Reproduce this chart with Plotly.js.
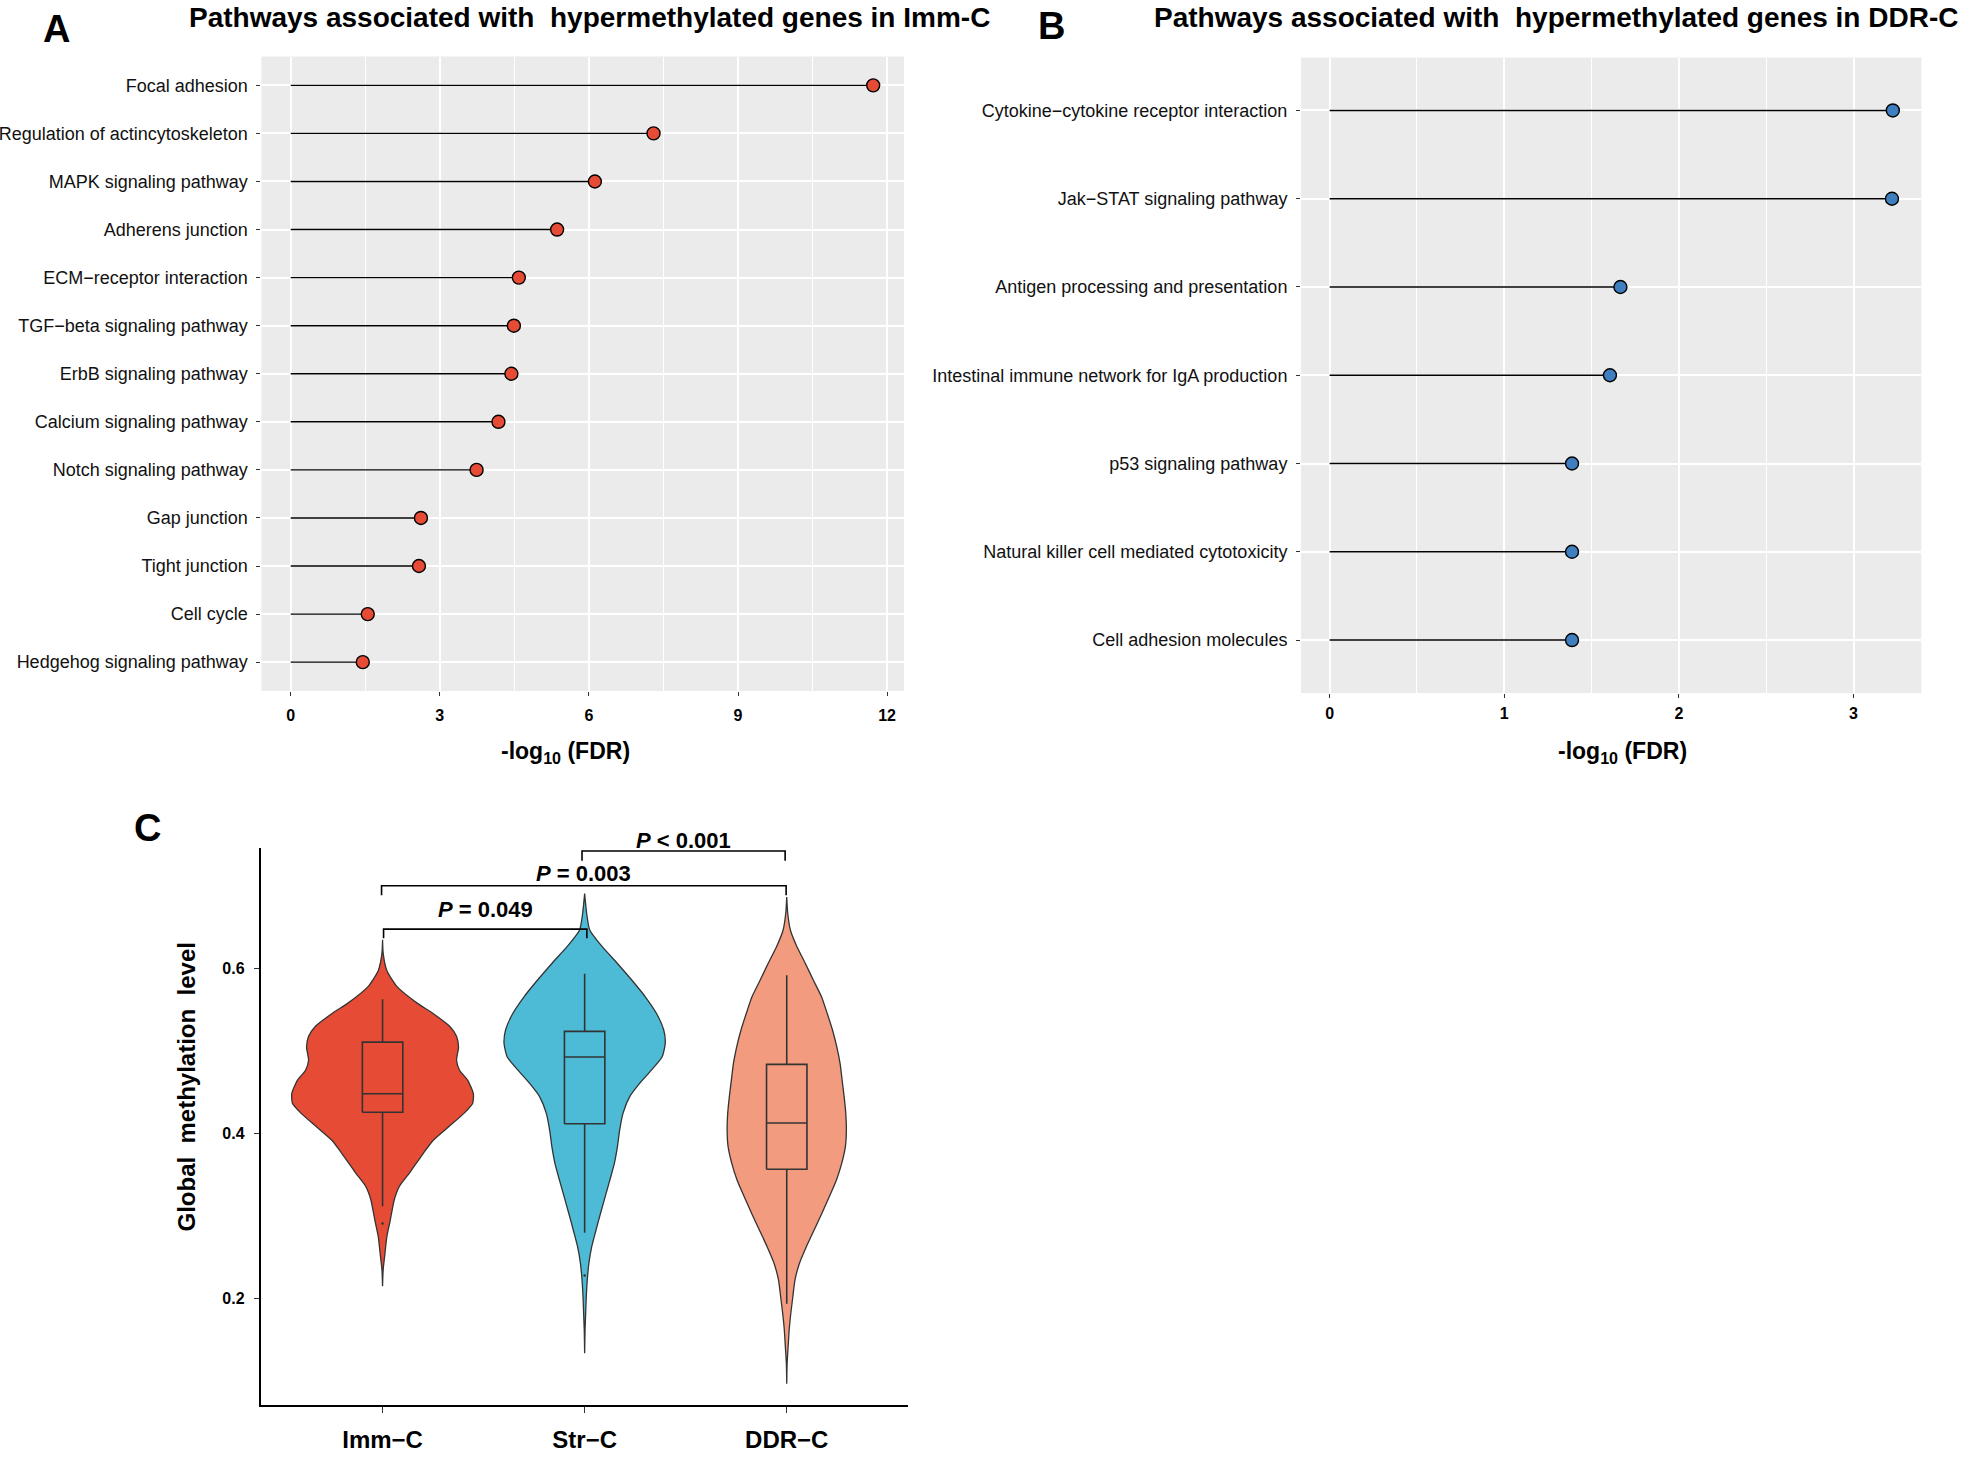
<!DOCTYPE html>
<html><head><meta charset="utf-8">
<script src="https://cdn.plot.ly/plotly-3.0.1.min.js"></script>
<style>html,body{margin:0;padding:0;background:#fff}#chart{width:1961px;height:1457px}</style>
</head><body><div id="chart"></div>
<script>
// ---------- Panel A data ----------
const pathwaysA = ["Focal adhesion","Regulation of actincytoskeleton","MAPK signaling pathway","Adherens junction","ECM\u2212receptor interaction","TGF\u2212beta signaling pathway","ErbB signaling pathway","Calcium signaling pathway","Notch signaling pathway","Gap junction","Tight junction","Cell cycle","Hedgehog signaling pathway"];
const fdrA = [11.72, 7.30, 6.12, 5.36, 4.59, 4.49, 4.44, 4.18, 3.74, 2.62, 2.58, 1.55, 1.45];
const ticksA = [0, 3, 6, 9, 12];

// ---------- Panel B data ----------
const pathwaysB = ["Cytokine\u2212cytokine receptor interaction","Jak\u2212STAT signaling pathway","Antigen processing and presentation","Intestinal immune network for IgA production","p53 signaling pathway","Natural killer cell mediated cytotoxicity","Cell adhesion molecules"];
const fdrB = [3.225, 3.22, 1.665, 1.605, 1.388, 1.388, 1.388];
const ticksB = [0, 1, 2, 3];

// ---------- Panel C data ----------
const groupsC = ["Imm\u2212C","Str\u2212C","DDR\u2212C"];
const immY = [0.635,0.619,0.598,0.578,0.558,0.546,0.530,0.518,0.505,0.489,0.477,0.465,0.449,0.437,0.425,0.409,0.392,0.376,0.352,0.336,0.320,0.295,0.275,0.255,0.235,0.215];
const immW = [0,0.003,0.021,0.073,0.173,0.248,0.333,0.366,0.376,0.366,0.381,0.421,0.449,0.446,0.404,0.33,0.251,0.201,0.132,0.083,0.058,0.038,0.021,0.012,0.003,0];
const strY = [0.691,0.667,0.647,0.627,0.607,0.586,0.566,0.546,0.526,0.510,0.493,0.477,0.461,0.445,0.425,0.404,0.384,0.364,0.344,0.324,0.303,0.283,0.263,0.243,0.223,0.202,0.182,0.162,0.134];
const strW = [0,0.010,0.025,0.086,0.160,0.234,0.300,0.355,0.391,0.399,0.383,0.330,0.272,0.223,0.190,0.173,0.162,0.147,0.125,0.102,0.078,0.056,0.035,0.021,0.013,0.008,0.005,0.002,0];
const ddrY = [0.687,0.667,0.647,0.627,0.607,0.586,0.566,0.546,0.526,0.505,0.485,0.465,0.445,0.425,0.404,0.384,0.364,0.344,0.324,0.303,0.283,0.263,0.243,0.223,0.202,0.182,0.162,0.142,0.122,0.097];
const ddrW = [0,0.005,0.018,0.050,0.091,0.132,0.172,0.200,0.226,0.248,0.264,0.274,0.284,0.292,0.295,0.290,0.272,0.246,0.211,0.173,0.135,0.097,0.063,0.041,0.030,0.020,0.012,0.007,0.002,0];
const boxLow  = [0.312, 0.280, 0.194];
const boxQ1   = [0.426, 0.412, 0.357];
const boxMed  = [0.4485, 0.493, 0.413];
const boxQ3   = [0.511, 0.524, 0.484];
const boxHigh = [0.563, 0.594, 0.592];
const outliersC = [[0.291], [0.228], []];
const ticksC = [0.2, 0.4, 0.6];
const bracketFrom = [0.005, -0.005, 0.987];
const bracketTo   = [1.011, 1.997, 1.992];
const bracketY    = [0.648, 0.7006, 0.7427];
const bracketLeg  = [0.637, 0.689, 0.731];
const pText = ["= 0.049", "= 0.003", "< 0.001"];

// ---------- styles ----------
const FONT = "Liberation Sans, Arial, Helvetica, sans-serif";
const W = 1961, H = 1457;
const px = v => v / W, py = v => 1 - v / H;
const violinColors = ["#E64B35", "#4DBBD5", "#F39B7F"];
const dotA = "#E64B35", dotB = "#3F7FBF";
const boxHalf = 0.1;
const labelShift = [20, 12, 11];

const traces = [];

function lollipop(cats, vals, xa, ya, color) {
  const sx = [], sy = [];
  cats.forEach((c, i) => { sx.push(0, vals[i], null); sy.push(c, c, null); });
  traces.push({type: "scatter", mode: "lines", x: sx, y: sy, xaxis: xa, yaxis: ya,
    line: {color: "#000", width: 1.4}, hoverinfo: "skip", showlegend: false});
  traces.push({type: "scatter", mode: "markers", x: vals, y: cats, xaxis: xa, yaxis: ya,
    marker: {color: color, size: 13, line: {color: "#000", width: 1.4}}, showlegend: false});
}
lollipop(pathwaysA, fdrA, "x", "y", dotA);
lollipop(pathwaysB, fdrB, "x2", "y2", dotB);

// violins
const profiles = [[immY, immW], [strY, strW], [ddrY, ddrW]];
profiles.forEach(([ys, ws], g) => {
  const xs = ys.map((y, i) => g + ws[i]);
  const xl = ys.map((y, i) => g - ws[i]).reverse();
  traces.push({type: "scatter", mode: "lines", x: xs.concat(xl).concat([xs[0]]),
    y: ys.concat(ys.slice().reverse()).concat([ys[0]]), xaxis: "x3", yaxis: "y3",
    fill: "toself", fillcolor: violinColors[g], line: {color: "#333", width: 1.3, shape: "spline", smoothing: 0.6},
    hoverinfo: "skip", showlegend: false});
});
// boxes
groupsC.forEach((name, g) => {
  traces.push({type: "scatter", mode: "lines",
    x: [g, g, null, g, g, null, g - boxHalf, g + boxHalf, g + boxHalf, g - boxHalf, g - boxHalf, null, g - boxHalf, g + boxHalf],
    y: [boxQ3[g], boxHigh[g], null, boxQ1[g], boxLow[g], null, boxQ1[g], boxQ1[g], boxQ3[g], boxQ3[g], boxQ1[g], null, boxMed[g], boxMed[g]],
    xaxis: "x3", yaxis: "y3", line: {color: "#333", width: 1.6}, hoverinfo: "skip", showlegend: false});
  if (outliersC[g].length) {
    traces.push({type: "scatter", mode: "markers", x: outliersC[g].map(() => g), y: outliersC[g],
      xaxis: "x3", yaxis: "y3", marker: {color: "#333", size: 2.5}, showlegend: false});
  }
});
// brackets
bracketY.forEach((by, i) => {
  traces.push({type: "scatter", mode: "lines",
    x: [bracketFrom[i], bracketFrom[i], bracketTo[i], bracketTo[i]],
    y: [bracketLeg[i], by, by, bracketLeg[i]], xaxis: "x3", yaxis: "y3",
    line: {color: "#000", width: 1.6}, hoverinfo: "skip", showlegend: false, cliponaxis: false});
});

const annotations = [];
function ann(text, x, y, size, extra) {
  annotations.push(Object.assign({text: text, x: px(x), y: py(y), xref: "paper", yref: "paper",
    showarrow: false, xanchor: "center", yanchor: "middle", font: {family: FONT, size: size, color: "#000"}}, extra || {}));
}
ann("<b>A</b>", 56.5, 29, 38);
ann("<b>B</b>", 1051.5, 26, 38);
ann("<b>C</b>", 147, 828, 38);
ann("<b>Pathways associated with\u00A0 hypermethylated genes in Imm-C</b>", 589, 17, 28);
ann("<b>Pathways associated with\u00A0 hypermethylated genes in DDR-C</b>", 1556, 17, 28);
ann("<b>-log<sub>10</sub> (FDR)</b>", 565, 753, 23);
ann("<b>-log<sub>10</sub> (FDR)</b>", 1622, 752, 23);
ann("<b>Global\u00A0 methylation\u00A0 level</b>", 186, 1087.5, 24, {textangle: -90});
bracketY.forEach((by, i) => {
  annotations.push({text: "<b><i>P</i> " + pText[i] + "</b>", x: (bracketFrom[i] + bracketTo[i]) / 2, y: by,
    xref: "x3", yref: "y3", showarrow: false, xanchor: "center", yanchor: "middle", yshift: labelShift[i],
    font: {family: FONT, size: 22, color: "#000"}});
});

const gray = "#EBEBEB";
const shapes = [
  {type: "rect", xref: "x domain", yref: "y domain", x0: 0, x1: 1, y0: 0, y1: 1, fillcolor: gray, line: {width: 0}, layer: "below"},
  {type: "rect", xref: "x2 domain", yref: "y2 domain", x0: 0, x1: 1, y0: 0, y1: 1, fillcolor: gray, line: {width: 0}, layer: "below"}
];

const tickFontBold = {family: FONT, size: 16, color: "#000", weight: "bold"};
const catFont = {family: FONT, size: 18, color: "#111"};

const layout = {
  width: W, height: H, margin: {l: 0, r: 0, t: 0, b: 0},
  paper_bgcolor: "#fff", plot_bgcolor: "#fff", showlegend: false,
  font: {family: FONT},
  xaxis: {domain: [px(261.4), px(904)], anchor: "y", range: [-0.59, 12.34], tickvals: ticksA,
    showgrid: true, gridcolor: "#fff", gridwidth: 2, zeroline: false, showline: false,
    minor: {dtick: 1.5, tick0: 0, showgrid: true, gridcolor: "#fff", gridwidth: 1},
    ticks: "outside", ticklen: 4, tickcolor: "#333", tickwidth: 1, tickfont: tickFontBold, ticklabelstandoff: 6},
  yaxis: {domain: [py(691), py(56.5)], anchor: "x", type: "category", categoryorder: "array", categoryarray: pathwaysA,
    range: [pathwaysA.length - 0.4, -0.6], showgrid: true, gridcolor: "#fff", gridwidth: 2, zeroline: false,
    ticks: "outside", ticklen: 4, tickcolor: "#333", tickwidth: 1, tickfont: catFont, ticklabelstandoff: 5},
  xaxis2: {domain: [px(1301), px(1921.3)], anchor: "y2", range: [-0.164, 3.388], tickvals: ticksB,
    showgrid: true, gridcolor: "#fff", gridwidth: 2, zeroline: false, showline: false,
    minor: {dtick: 0.5, tick0: 0, showgrid: true, gridcolor: "#fff", gridwidth: 1},
    ticks: "outside", ticklen: 4, tickcolor: "#333", tickwidth: 1, tickfont: tickFontBold, ticklabelstandoff: 2},
  yaxis2: {domain: [py(693), py(57.5)], anchor: "x2", type: "category", categoryorder: "array", categoryarray: pathwaysB,
    range: [pathwaysB.length - 0.4, -0.6], showgrid: true, gridcolor: "#fff", gridwidth: 2, zeroline: false,
    ticks: "outside", ticklen: 4, tickcolor: "#333", tickwidth: 1, tickfont: catFont, ticklabelstandoff: 5},
  xaxis3: {domain: [px(261.3), px(908)], anchor: "y3", range: [-0.6, 2.6], tickvals: [0, 1, 2], ticktext: groupsC,
    showgrid: false, zeroline: false, showline: true, linecolor: "#000", linewidth: 2.5,
    ticks: "outside", ticklen: 6, tickcolor: "#333", tickwidth: 1, ticklabelstandoff: 6,
    tickfont: {family: FONT, size: 24, color: "#000", weight: "bold"}},
  yaxis3: {domain: [py(1404.6), py(848.3)], anchor: "x3", range: [0.0716, 0.746], tickvals: ticksC,
    showgrid: false, zeroline: false, showline: true, linecolor: "#000", linewidth: 2.5,
    ticks: "outside", ticklen: 5, tickcolor: "#333", tickwidth: 1, ticklabelstandoff: 6,
    tickfont: tickFontBold},
  annotations: annotations, shapes: shapes
};

Plotly.newPlot("chart", traces, layout, {staticPlot: true, displayModeBar: false});
</script>
</body></html>
